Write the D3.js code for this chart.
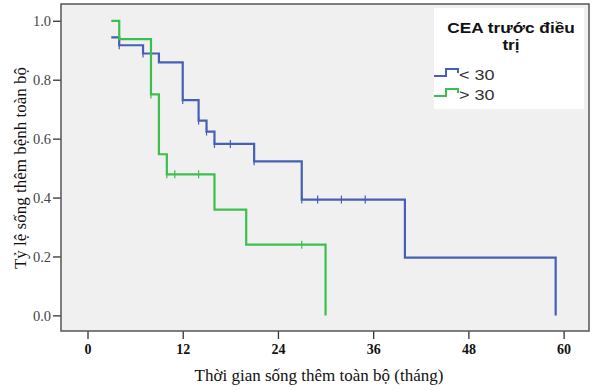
<!DOCTYPE html>
<html>
<head>
<meta charset="utf-8">
<script src="https://cdn.jsdelivr.net/npm/d3@7/dist/d3.min.js"></script>
<style>
  html, body { margin: 0; padding: 0; background: #ffffff; }
  svg { display: block; }
</style>
</head>
<body>
<svg id="chart" width="595" height="390"></svg>
<script>
// Kaplan–Meier steps: the curve starts at the first time, then drops at each later time
const lowTimes = [3, 4, 7, 9, 12, 14, 15, 16, 21, 27, 40, 59];
const lowSurv  = [0.944, 0.917, 0.889, 0.859, 0.731, 0.661, 0.624, 0.582, 0.523, 0.393, 0.196, 0.0];
const lowCensored = [4, 7, 8, 12, 14, 15, 16, 18, 21, 27, 29, 32, 35];

const highTimes = [3, 4, 8, 9, 10, 16, 20, 30];
const highSurv  = [1.0, 0.938, 0.75, 0.547, 0.479, 0.359, 0.240, 0.0];
const highCensored = [8, 10, 11, 14, 27];

const groupLabels = ["< 30", "> 30"];
const groupColors = ["#4560b4", "#3cbf4c"];
const xTicks = [0, 12, 24, 36, 48, 60];
const yTicks = [0.0, 0.2, 0.4, 0.6, 0.8, 1.0];

const legendTitle = ["CEA trước điều", "trị"];
const xTitle = "Thời gian sống thêm toàn bộ (tháng)";
const yTitle = "Tỷ lệ sống thêm bệnh toàn bộ";

const svg = d3.select("#chart");
const frame = { left: 61, right: 589, top: 4, bottom: 331 };

const x = d3.scaleLinear().domain([-3.34, 63.2]).range([frame.left, frame.right]);
const y = d3.scaleLinear().domain([-0.053, 1.057]).range([frame.bottom, frame.top]);

// plot background
svg.append("rect")
  .attr("x", frame.left).attr("y", frame.top)
  .attr("width", frame.right - frame.left).attr("height", frame.bottom - frame.top)
  .attr("fill", "#f0f0f0");

// axes
const xAxis = d3.axisBottom(x).tickValues(xTicks).tickSize(8).tickPadding(5).tickFormat(d3.format("d"));
const gx = svg.append("g").attr("transform", `translate(0,${frame.bottom})`).call(xAxis);
gx.select(".domain").remove();
gx.selectAll(".tick line").attr("stroke", "#333").attr("stroke-width", 1.3);
gx.selectAll(".tick text")
  .attr("font-family", "'Liberation Serif', 'Times New Roman', serif")
  .attr("font-weight", "bold").attr("font-size", 14).attr("fill", "#111");

const yAxis = d3.axisLeft(y).tickValues(yTicks).tickSize(8).tickPadding(2).tickFormat(d3.format(".1f"));
const gy = svg.append("g").attr("transform", `translate(${frame.left},0)`).call(yAxis);
gy.select(".domain").remove();
gy.selectAll(".tick line").attr("stroke", "#333").attr("stroke-width", 1.3);
gy.selectAll(".tick text")
  .attr("font-family", "'Liberation Serif', 'Times New Roman', serif")
  .attr("font-size", 14.5).attr("fill", "#444");

// frame border
svg.append("rect")
  .attr("x", frame.left).attr("y", frame.top)
  .attr("width", frame.right - frame.left).attr("height", frame.bottom - frame.top)
  .attr("fill", "none").attr("stroke", "#555").attr("stroke-width", 1.5);

// step curves
function stepPoints(times, surv) {
  const pts = [[times[0], surv[0]]];
  for (let i = 1; i < times.length; i++) {
    pts.push([times[i], surv[i - 1]]);
    pts.push([times[i], surv[i]]);
  }
  return pts;
}
function survAt(times, surv, t) {
  let s = surv[0];
  for (let i = 0; i < times.length; i++) if (times[i] <= t) s = surv[i];
  return s;
}

const line = d3.line().x(d => x(d[0])).y(d => y(d[1]));
const groups = [
  { times: lowTimes, surv: lowSurv, censored: lowCensored, color: groupColors[0] },
  { times: highTimes, surv: highSurv, censored: highCensored, color: groupColors[1] }
];

groups.forEach(g => {
  svg.append("path")
    .datum(stepPoints(g.times, g.surv))
    .attr("d", line)
    .attr("fill", "none")
    .attr("stroke", g.color)
    .attr("stroke-width", 2.2)
    .attr("stroke-linejoin", "miter");
  svg.append("g").selectAll("line")
    .data(g.censored)
    .join("line")
    .attr("x1", d => x(d)).attr("x2", d => x(d))
    .attr("y1", d => y(survAt(g.times, g.surv, d)) - 4)
    .attr("y2", d => y(survAt(g.times, g.surv, d)) + 4)
    .attr("stroke", g.color)
    .attr("stroke-width", 1.2);
});

// legend
const lg = svg.append("g");
lg.append("rect").attr("x", 434).attr("y", 8).attr("width", 150).attr("height", 101).attr("fill", "#ffffff");
lg.append("text")
  .attr("transform", "translate(511,33) scale(1.15,1)")
  .attr("text-anchor", "middle")
  .attr("font-family", "'Liberation Sans', Arial, sans-serif")
  .attr("font-weight", "bold").attr("font-size", 15).attr("fill", "#111")
  .selectAll("tspan").data(legendTitle).join("tspan")
  .attr("x", 0).attr("dy", (d, i) => i === 0 ? 0 : 17)
  .text(d => d);

groupLabels.forEach((label, i) => {
  const by = 76 + i * 20;
  lg.append("path")
    .attr("d", `M434,${by} H446 V${by - 7} H458 V${by - 3}`)
    .attr("fill", "none").attr("stroke", groupColors[i]).attr("stroke-width", 2);
  lg.append("text")
    .attr("transform", `translate(459,${by + 4}) scale(1.2,1)`)
    .attr("font-family", "'Liberation Sans', Arial, sans-serif")
    .attr("font-size", 15).attr("fill", "#333")
    .text(label);
});

// axis titles
svg.append("text")
  .attr("x", 319).attr("y", 381)
  .attr("text-anchor", "middle")
  .attr("font-family", "'Liberation Serif', 'Times New Roman', serif")
  .attr("font-size", 17).attr("fill", "#111")
  .text(xTitle);

svg.append("text")
  .attr("transform", "translate(26,168) rotate(-90)")
  .attr("text-anchor", "middle")
  .attr("font-family", "'Liberation Serif', 'Times New Roman', serif")
  .attr("font-size", 17).attr("fill", "#111")
  .text(yTitle);
</script>
</body>
</html>
